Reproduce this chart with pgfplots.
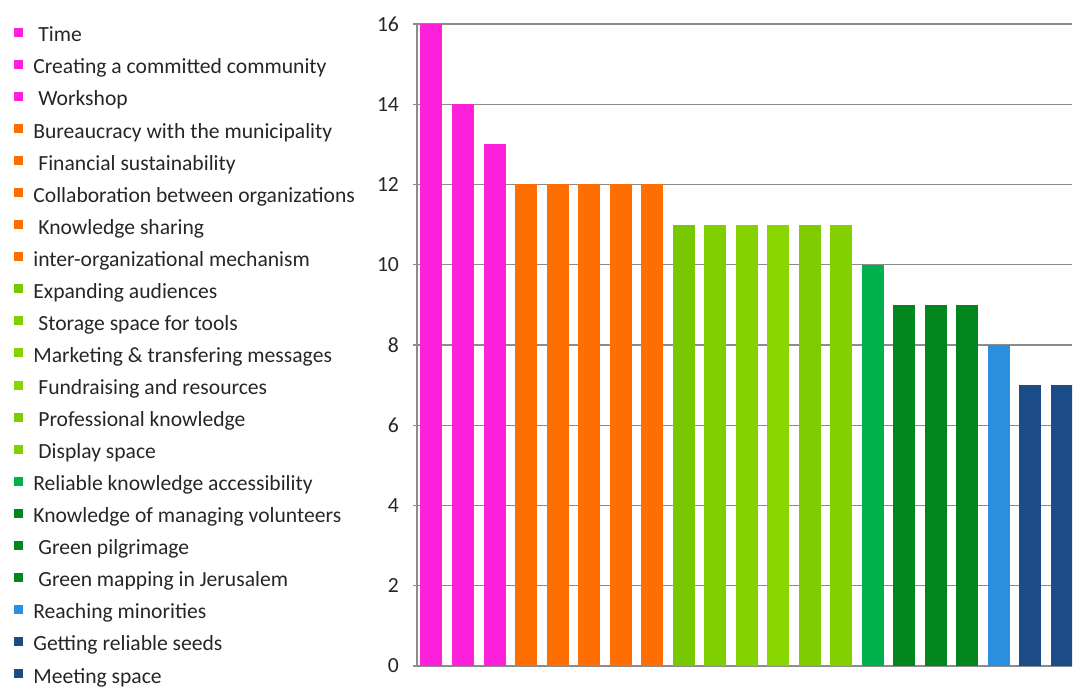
\documentclass[border=0pt]{standalone}
\usepackage{pgfplots}
\pgfplotsset{compat=1.18}
\usepackage{fontspec}
\setmainfont{Carlito}

\definecolor{cMag}{HTML}{FF20DC}
\definecolor{cOra}{HTML}{FF6E00}
\definecolor{cLg1}{HTML}{77C800}
\definecolor{cLg2}{HTML}{7FCF00}
\definecolor{cLg3}{HTML}{84D200}
\definecolor{cLg4}{HTML}{88D500}
\definecolor{cLg5}{HTML}{7ECC00}
\definecolor{cLg6}{HTML}{82D000}
\definecolor{cTeal}{HTML}{00B04C}
\definecolor{cDg}{HTML}{00861C}
\definecolor{cBlue}{HTML}{2B8FE0}
\definecolor{cNavy}{HTML}{1B4C88}
\definecolor{gridgray}{HTML}{8C8C8C}

\pgfplotsset{
  onebar/.style={ybar, bar width=11pt, bar shift=0pt, draw=none, fill=#1},
}
\newcommand{\lsp}{\hspace{2.5pt}}

\begin{document}
\begin{tikzpicture}
\useasboundingbox (0,0) rectangle (537.5pt,343pt);
\begin{axis}[
  at={(208.5pt,10pt)}, anchor=south west,
  scale only axis, width=327.5pt, height=321pt,
  xmin=0.54, xmax=21.33,
  ymin=0, ymax=16,
  ytick={0,2,...,16},
  xtick=\empty,
  axis x line=bottom, axis y line=left,
  axis line style={gridgray, line width=0.7pt, -},
  ymajorgrids=true,
  grid style={gridgray, line width=0.7pt},
  tick align=outside,
  major tick length=2pt,
  ytick style={gridgray, line width=0.7pt},
  tick label style={font=\fontsize{10.8}{13}\selectfont, text=black!85},
  /pgf/number format/assume math mode=true,
  yticklabel style={xshift=-3.5pt},
  legend cell align=left,
  legend image code/.code={\fill[#1] (0pt,0.5pt) rectangle (4.5pt,5pt); \path (9.5pt,0pt);},
  legend style={at={(-0.6153,1.004)}, anchor=north west, draw=none, fill=none,
    inner sep=0pt, row sep=0pt, column sep=0pt,
    font=\fontsize{10.8}{13}\selectfont, text=black!85,
    nodes={inner sep=0pt, text height=10pt, text depth=6.03pt}},
]
\addplot[onebar=cMag] coordinates {(1,16)};
\addlegendentry{\lsp Time}
\addplot[onebar=cMag] coordinates {(2,14)};
\addlegendentry{Creating a committed community}
\addplot[onebar=cMag] coordinates {(3,13)};
\addlegendentry{\lsp Workshop}
\addplot[onebar=cOra] coordinates {(4,12)};
\addlegendentry{Bureaucracy with the municipality}
\addplot[onebar=cOra] coordinates {(5,12)};
\addlegendentry{\lsp Financial sustainability}
\addplot[onebar=cOra] coordinates {(6,12)};
\addlegendentry{Collaboration between organizations}
\addplot[onebar=cOra] coordinates {(7,12)};
\addlegendentry{\lsp Knowledge sharing}
\addplot[onebar=cOra] coordinates {(8,12)};
\addlegendentry{inter-organizational mechanism}
\addplot[onebar=cLg1] coordinates {(9,11)};
\addlegendentry{Expanding audiences}
\addplot[onebar=cLg2] coordinates {(10,11)};
\addlegendentry{\lsp Storage space for tools}
\addplot[onebar=cLg3] coordinates {(11,11)};
\addlegendentry{Marketing \& transfering messages}
\addplot[onebar=cLg4] coordinates {(12,11)};
\addlegendentry{\lsp Fundraising and resources}
\addplot[onebar=cLg5] coordinates {(13,11)};
\addlegendentry{\lsp Professional knowledge}
\addplot[onebar=cLg6] coordinates {(14,11)};
\addlegendentry{\lsp Display space}
\addplot[onebar=cTeal] coordinates {(15,10)};
\addlegendentry{Reliable knowledge accessibility}
\addplot[onebar=cDg] coordinates {(16,9)};
\addlegendentry{Knowledge of managing volunteers}
\addplot[onebar=cDg] coordinates {(17,9)};
\addlegendentry{\lsp Green pilgrimage}
\addplot[onebar=cDg] coordinates {(18,9)};
\addlegendentry{\lsp Green mapping in Jerusalem}
\addplot[onebar=cBlue] coordinates {(19,8)};
\addlegendentry{Reaching minorities}
\addplot[onebar=cNavy] coordinates {(20,7)};
\addlegendentry{Getting reliable seeds}
\addplot[onebar=cNavy] coordinates {(21,7)};
\addlegendentry{Meeting space}
\end{axis}
\end{tikzpicture}
\end{document}
